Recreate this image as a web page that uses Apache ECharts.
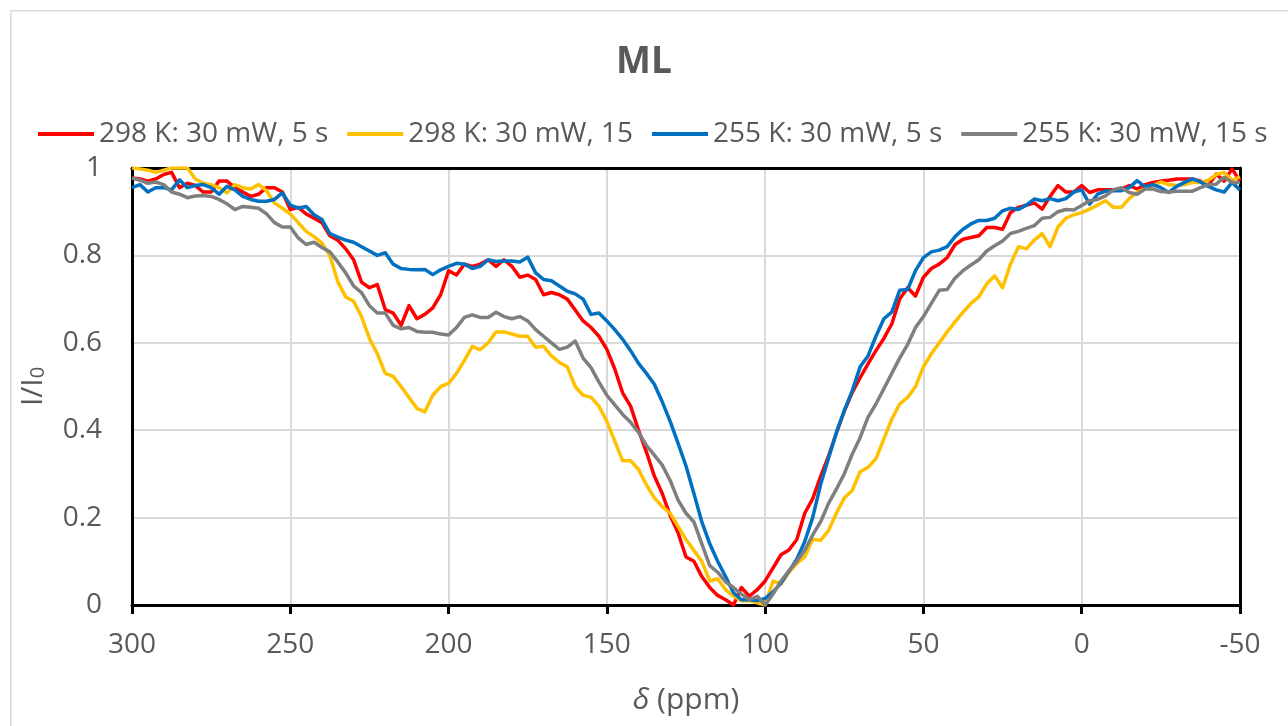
<!DOCTYPE html>
<html>
<head>
<meta charset="utf-8">
<script src="https://cdn.jsdelivr.net/npm/echarts@6/dist/echarts.min.js"></script>
<style>
html,body{margin:0;padding:0;background:#fff;}
#c{width:1288px;height:726px;}
</style>
</head>
<body>
<div id="c"></div>
<script>
// Chemical shift grid (ppm), sampled every 2.5 ppm from 300 down to -50
const ppmStart = 300;
const ppmStep = 2.5;
const pointCount = 141;

const seriesNames = ['298 K: 30 mW, 5 s', '298 K: 30 mW, 15', '255 K: 30 mW, 5 s', '255 K: 30 mW, 15 s'];

const red298_5s = [
0.977,0.975,0.97,0.975,0.985,0.99,0.955,0.965,0.96,0.945,
0.945,0.97,0.97,0.955,0.945,0.935,0.94,0.955,0.955,0.945,
0.905,0.91,0.895,0.885,0.875,0.845,0.835,0.815,0.79,0.739,
0.726,0.733,0.676,0.668,0.64,0.685,0.655,0.665,0.68,0.71,
0.765,0.755,0.78,0.775,0.78,0.79,0.775,0.79,0.775,0.75,
0.755,0.745,0.71,0.715,0.71,0.70,0.675,0.65,0.635,0.615,
0.585,0.54,0.485,0.455,0.40,0.35,0.295,0.255,0.205,0.165,
0.11,0.10,0.065,0.04,0.022,0.012,0.0,0.04,0.02,0.035,
0.055,0.085,0.115,0.126,0.15,0.21,0.243,0.294,0.34,0.393,
0.444,0.486,0.52,0.552,0.582,0.61,0.643,0.70,0.726,0.707,
0.75,0.77,0.78,0.795,0.825,0.837,0.841,0.845,0.864,0.864,
0.86,0.898,0.91,0.915,0.92,0.906,0.935,0.96,0.945,0.945,
0.96,0.944,0.95,0.95,0.95,0.952,0.96,0.952,0.962,0.967,
0.97,0.972,0.975,0.975,0.975,0.97,0.96,0.986,0.97,0.998,
0.97
];

const yellow298_15s = [
1.0,0.998,0.995,0.99,0.995,1.0,1.0,1.0,0.975,0.965,
0.962,0.955,0.943,0.962,0.955,0.952,0.962,0.948,0.92,0.908,
0.895,0.875,0.855,0.843,0.828,0.80,0.74,0.705,0.695,0.66,
0.61,0.575,0.53,0.523,0.50,0.475,0.45,0.442,0.48,0.50,
0.507,0.53,0.56,0.592,0.584,0.60,0.625,0.625,0.62,0.615,
0.615,0.59,0.592,0.57,0.555,0.545,0.50,0.48,0.475,0.455,
0.42,0.375,0.33,0.33,0.31,0.275,0.245,0.225,0.21,0.18,
0.15,0.125,0.10,0.055,0.06,0.035,0.02,0.01,0.01,0.005,
0.0,0.055,0.048,0.075,0.095,0.11,0.15,0.148,0.17,0.21,
0.245,0.262,0.305,0.315,0.335,0.38,0.425,0.46,0.475,0.50,
0.545,0.575,0.60,0.625,0.648,0.67,0.69,0.705,0.735,0.753,
0.726,0.78,0.82,0.815,0.835,0.85,0.82,0.865,0.885,0.893,
0.898,0.906,0.915,0.925,0.91,0.91,0.93,0.945,0.952,0.96,
0.968,0.962,0.96,0.962,0.967,0.967,0.972,0.985,0.99,0.972,
0.98
];

const blue255_5s = [
0.955,0.962,0.945,0.955,0.955,0.95,0.973,0.955,0.96,0.962,
0.955,0.94,0.958,0.95,0.935,0.928,0.924,0.924,0.928,0.943,
0.915,0.908,0.912,0.893,0.882,0.85,0.842,0.835,0.83,0.82,
0.81,0.80,0.806,0.78,0.77,0.768,0.767,0.768,0.756,0.767,
0.775,0.782,0.78,0.77,0.775,0.79,0.786,0.787,0.787,0.785,
0.796,0.76,0.745,0.742,0.73,0.718,0.712,0.70,0.665,0.668,
0.65,0.63,0.608,0.582,0.553,0.53,0.505,0.465,0.42,0.37,
0.318,0.255,0.19,0.14,0.10,0.065,0.028,0.012,0.012,0.01,
0.015,0.03,0.05,0.077,0.105,0.145,0.20,0.275,0.335,0.395,
0.445,0.49,0.545,0.57,0.615,0.655,0.67,0.72,0.722,0.765,
0.795,0.808,0.812,0.82,0.843,0.86,0.872,0.88,0.88,0.885,
0.902,0.908,0.905,0.915,0.929,0.925,0.93,0.925,0.93,0.945,
0.95,0.917,0.94,0.947,0.948,0.948,0.955,0.971,0.957,0.962,
0.955,0.944,0.958,0.967,0.975,0.968,0.958,0.95,0.945,0.967,
0.95
];

const gray255_15s = [
0.977,0.972,0.965,0.968,0.962,0.945,0.94,0.932,0.936,0.937,
0.935,0.928,0.918,0.905,0.912,0.91,0.908,0.895,0.875,0.865,
0.865,0.84,0.825,0.83,0.818,0.808,0.785,0.76,0.73,0.715,
0.685,0.668,0.668,0.64,0.632,0.635,0.626,0.624,0.624,0.62,
0.618,0.635,0.658,0.664,0.658,0.658,0.67,0.66,0.655,0.66,
0.65,0.63,0.615,0.60,0.585,0.59,0.604,0.565,0.543,0.51,
0.48,0.458,0.436,0.418,0.395,0.365,0.343,0.32,0.285,0.24,
0.21,0.19,0.14,0.09,0.075,0.053,0.04,0.025,0.012,0.02,
0.0,0.025,0.055,0.078,0.1,0.125,0.16,0.19,0.232,0.265,
0.3,0.345,0.383,0.43,0.46,0.495,0.53,0.565,0.596,0.635,
0.66,0.69,0.72,0.722,0.748,0.765,0.778,0.79,0.81,0.822,
0.833,0.85,0.855,0.862,0.868,0.885,0.887,0.9,0.905,0.904,
0.914,0.925,0.928,0.936,0.95,0.955,0.944,0.94,0.952,0.952,
0.946,0.945,0.947,0.947,0.947,0.955,0.962,0.963,0.979,0.967,
0.967
];

const seriesColors = ['#FF0000', '#FFC000', '#0070C0', '#7F7F7F'];

const ppm = [];
for (let i = 0; i < pointCount; i++) ppm.push(ppmStart - ppmStep * i);

function pairs(vals) { return vals.map((v, i) => [ppm[i], v]); }

const FONT = '"Open Sans", "Noto Sans", sans-serif';
const TXT = '#595959';

const chart = echarts.init(document.getElementById('c'), null, {renderer: 'canvas'});
const data = [red298_5s, yellow298_15s, blue255_5s, gray255_15s];

const frameAxisX = {
  type: 'value', inverse: true, min: -50, max: 300, interval: 50, position: 'top',
  axisLine: {show: true, onZero: false, lineStyle: {color: '#000', width: 3}},
  axisTick: {show: false}, axisLabel: {show: false}, splitLine: {show: false}
};
const frameAxisY = {
  type: 'value', min: 0, max: 1, interval: 0.2, position: 'right',
  axisLine: {show: true, onZero: false, lineStyle: {color: '#000', width: 3}},
  axisTick: {show: false}, axisLabel: {show: false}, splitLine: {show: false}
};

chart.setOption({
  animation: false,
  backgroundColor: '#fff',
  graphic: [{
    type: 'rect', left: 10, top: 10, z: -10, silent: true,
    shape: {width: 1300, height: 740},
    style: {fill: '#fff', stroke: '#D9D9D9', lineWidth: 1.5}
  }],
  title: {
    text: 'ML', left: 'center', top: 39,
    textStyle: {fontFamily: FONT, fontSize: 37, fontWeight: 'bold', color: TXT}
  },
  legend: {
    left: 38, top: 120, width: 1250, padding: 0,
    itemWidth: 56, itemHeight: 4, itemGap: 19,
    icon: 'rect',
    textStyle: {fontFamily: FONT, fontSize: 28, color: TXT},
    data: seriesNames
  },
  grid: {
    left: 132, right: 48, top: 168, bottom: 121
  },
  xAxis: [{
    type: 'value', inverse: true, min: -50, max: 300, interval: 50,
    name: '{i|δ} (ppm)', nameLocation: 'middle', nameGap: 80,
    nameTextStyle: {fontFamily: FONT, fontSize: 30, color: TXT,
      rich: {i: {fontFamily: FONT, fontSize: 30, fontStyle: 'italic', color: TXT}}},
    axisLine: {onZero: false, lineStyle: {color: '#000', width: 3}},
    axisTick: {show: true, length: 9, lineStyle: {color: '#000', width: 3}},
    axisLabel: {fontFamily: FONT, fontSize: 28, color: TXT, margin: 26},
    splitLine: {show: true, lineStyle: {color: '#D9D9D9', width: 2}}
  }, frameAxisX],
  yAxis: [{
    type: 'value', min: 0, max: 1, interval: 0.2,
    name: '{n|I/I}{s|0}', nameLocation: 'middle', nameGap: 84,
    nameTextStyle: {fontFamily: FONT, fontSize: 30, color: TXT,
      rich: {
        n: {fontFamily: FONT, fontSize: 30, color: TXT, lineHeight: 40, verticalAlign: 'bottom'},
        s: {fontFamily: FONT, fontSize: 20, color: TXT, lineHeight: 40, verticalAlign: 'bottom', padding: [14,0,0,0]}
      }},
    axisLine: {show: true, onZero: false, lineStyle: {color: '#000', width: 3}},
    axisTick: {show: false},
    axisLabel: {fontFamily: FONT, fontSize: 28, color: TXT, margin: 30},
    splitLine: {show: true, lineStyle: {color: '#D9D9D9', width: 2}}
  }, frameAxisY],
  series: data.map((vals, k) => ({
    name: seriesNames[k], type: 'line', data: pairs(vals),
    xAxisIndex: 0, yAxisIndex: 0,
    showSymbol: false, symbol: 'none', smooth: false, clip: true,
    lineStyle: {color: seriesColors[k], width: 3.5, join: 'round'},
    itemStyle: {color: seriesColors[k]},
    z: 2 + k
  }))
});
</script>
</body>
</html>
